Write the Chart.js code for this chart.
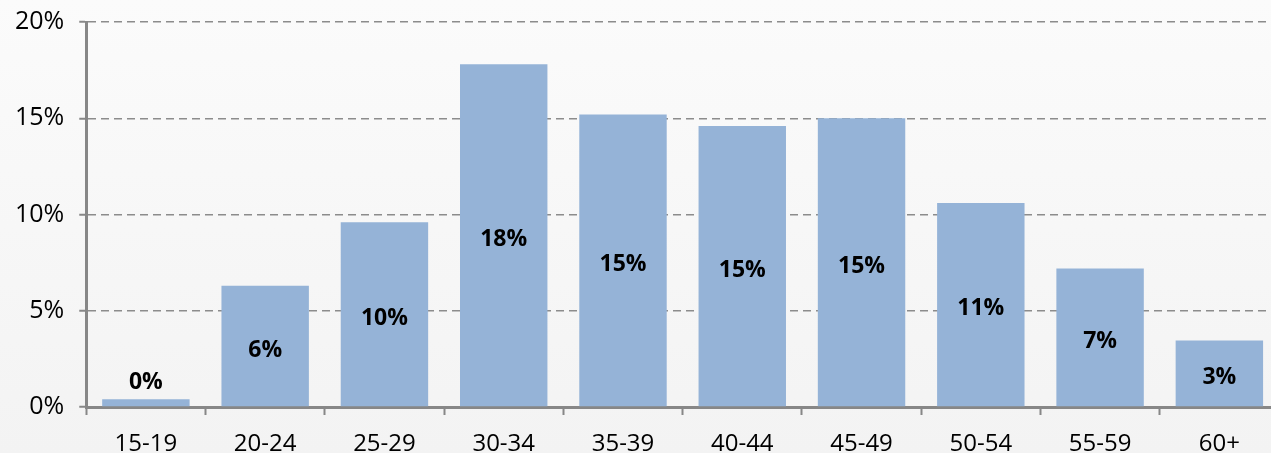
<!DOCTYPE html>
<html>
<head>
<meta charset="utf-8">
<script src="https://cdn.jsdelivr.net/npm/chart.js@4.4.1/dist/chart.umd.min.js"></script>
<style>
    html, body { margin: 0; padding: 0; overflow: hidden; }
    body { background: linear-gradient(#fbfbfb, #f3f3f3); width: 1271px; height: 453px; }
    #wrap { width: 1280px; height: 460px; position: relative; }
</style>
</head>
<body>
<div id="wrap"><canvas id="chart"></canvas></div>
<script>
// age groups and share of total (%)
const categories = ['15-19', '20-24', '25-29', '30-34', '35-39', '40-44', '45-49', '50-54', '55-59', '60+'];
const shares = [0.4, 6.3, 9.6, 17.8, 15.2, 14.6, 15.0, 10.6, 7.2, 3.45];
const yTicks = [0, 5, 10, 15, 20];

const barColor = '#95b3d7';
const axisColor = '#878787';
const gridColor = '#8c8c8c';
const fontFamily = "'Open Sans', 'Liberation Sans', sans-serif";

// draws the bold value labels inside (or above, when too short) each bar
const valueLabels = {
    id: 'valueLabels',
    afterDatasetsDraw: function( chart ){
        const ctx = chart.ctx;
        const meta = chart.getDatasetMeta( 0 );
        ctx.save();
        ctx.font = 'bold 23px ' + fontFamily;
        ctx.fillStyle = '#000';
        ctx.textAlign = 'center';
        ctx.textBaseline = 'middle';
        meta.data.forEach( function( bar, i ){
            const h = bar.base - bar.y;
            let y = ( bar.y + bar.base ) / 2 + 4;
            if ( h < 30 ) {
                y = bar.y - 17;
            }
            ctx.fillText( Math.round( shares[i] ) + '%', bar.x, y );
        } );
        ctx.restore();
    }
};

Chart.defaults.font.family = fontFamily;
Chart.defaults.color = '#000';

new Chart( document.getElementById( 'chart' ), {
    type: 'bar',
    data: {
        labels: categories,
        datasets: [{
            data: shares,
            backgroundColor: barColor,
            borderWidth: 0,
            categoryPercentage: 1,
            barPercentage: 0.733
        }]
    },
    options: {
        responsive: true,
        maintainAspectRatio: false,
        animation: false,
        layout: { padding: { top: 22, right: 1, bottom: 0, left: 0 } },
        plugins: {
            legend: { display: false },
            tooltip: { enabled: false }
        },
        scales: {
            x: {
                offset: true,
                afterFit: function( axis ){ axis.height = 53; },
                border: { display: true, color: axisColor, width: 3 },
                grid: {
                    offset: true,
                    drawOnChartArea: false,
                    drawTicks: true,
                    tickLength: 8,
                    tickColor: axisColor,
                    tickWidth: 2
                },
                ticks: { font: { size: 24 }, padding: 15, maxRotation: 0 }
            },
            y: {
                min: 0,
                max: 20,
                afterBuildTicks: function( axis ){
                    axis.ticks = yTicks.map( function( v ){ return { value: v }; } );
                },
                afterFit: function( axis ){
                    axis.paddingTop = 0;
                    axis.paddingBottom = 0;
                },
                border: { display: true, color: axisColor, width: 3, dash: [8, 5] },
                grid: {
                    color: gridColor,
                    lineWidth: 1.5,
                    drawTicks: true,
                    tickLength: 7,
                    tickColor: axisColor,
                    tickWidth: 2,
                    tickBorderDash: []
                },
                ticks: {
                    font: { size: 25 },
                    padding: 15,
                    callback: function( value ){ return value + '%'; }
                }
            }
        }
    },
    plugins: [ valueLabels ]
} );
</script>
</body>
</html>
